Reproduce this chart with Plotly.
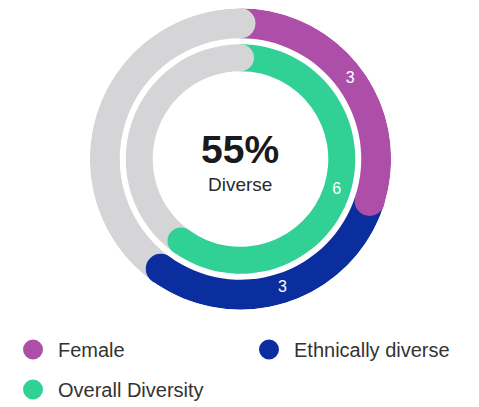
import plotly.graph_objects as go

# ---- data ----
outer_categories = ["Female", "Ethnically diverse", "Other"]
outer_values = [3, 3, 4]
outer_colors = ["#AD4FA8", "#0B2E9E", "#D5D5D7"]

inner_categories = ["Overall Diversity", "Other"]
inner_values = [6, 4]
inner_colors = ["#31D196", "#D5D5D7"]

center_value = "55%"
center_label = "Diverse"

FONT = "Arial, Liberation Sans, Helvetica, sans-serif"

# page body has an 8px margin
OFF = 8
W, H = 479 - 2 * OFF, 401


def px(x):
    return (x - OFF) / W


def py(y):
    return 1 - (y - OFF) / H


# ring geometry (radial axis units == pixels)
R_MAX = 151
CX, CY = 240, 159
rings = [
    dict(cats=outer_categories, vals=outer_values, cols=outer_colors, base=121, thick=30),
    dict(cats=inner_categories, vals=inner_values, cols=inner_colors, base=88, thick=27),
]

fig = go.Figure()

# bars
for ring in rings:
    total = sum(ring["vals"])
    starts, spans = [], []
    acc = 0
    for v in ring["vals"]:
        starts.append(acc / total * 360)
        spans.append(v / total * 360)
        acc += v
    ring["starts"] = starts
    ring["spans"] = spans
    fig.add_trace(go.Barpolar(
        r=[ring["thick"]] * len(ring["vals"]),
        base=[ring["base"]] * len(ring["vals"]),
        theta=[s + w / 2 for s, w in zip(starts, spans)],
        width=spans,
        marker=dict(color=ring["cols"], line=dict(width=0)),
        showlegend=False,
        hoverinfo="skip",
    ))

# rounded caps at the end of each segment (also used as legend entries)
legend_map = {"Female": "legend", "Ethnically diverse": "legend3", "Overall Diversity": "legend2"}
cap_traces = []
for ring in rings:
    mid_r = ring["base"] + ring["thick"] / 2
    for cat, col, s, w in zip(ring["cats"], ring["cols"], ring["starts"], ring["spans"]):
        cap_traces.append((cat, go.Scatterpolar(
            r=[mid_r],
            theta=[s + w],
            mode="markers",
            marker=dict(size=ring["thick"] - 4, color=col, line=dict(color=col, width=4)),
            name=cat,
            showlegend=cat in legend_map,
            legend=legend_map.get(cat, "legend"),
            hoverinfo="skip",
        )))
order = ["Other", "Female", "Ethnically diverse", "Overall Diversity"]
cap_traces.sort(key=lambda t: order.index(t[0]))
for _, tr in cap_traces:
    fig.add_trace(tr)

# value labels
for ring in rings:
    mid_r = ring["base"] + ring["thick"] / 2
    th, tx = [], []
    for cat, v, s, w in zip(ring["cats"], ring["vals"], ring["starts"], ring["spans"]):
        if cat == "Other":
            continue
        th.append(s + w / 2)
        tx.append(str(v))
    fig.add_trace(go.Scatterpolar(
        r=[mid_r] * len(th), theta=th, text=tx, mode="text",
        textfont=dict(color="white", size=16, family=FONT),
        showlegend=False, hoverinfo="skip",
    ))

legend_style = dict(
    orientation="h", xanchor="left", yanchor="bottom",
    font=dict(size=20, color="#333333", family=FONT),
    itemwidth=40, bgcolor="rgba(0,0,0,0)",
)

fig.update_layout(
    width=W, height=H, autosize=False,
    margin=dict(l=0, r=0, t=0, b=0),
    paper_bgcolor="white", plot_bgcolor="white",
    font=dict(family=FONT, color="#333333"),
    polar=dict(
        domain=dict(x=[px(CX - R_MAX), px(CX + R_MAX)], y=[py(CY + R_MAX), py(CY - R_MAX)]),
        bgcolor="white",
        radialaxis=dict(range=[0, R_MAX], visible=False),
        angularaxis=dict(rotation=90, direction="clockwise", visible=False),
    ),
    legend=dict(x=px(7), y=40 / H, **legend_style),
    legend3=dict(x=px(244), y=40 / H, **legend_style),
    legend2=dict(x=px(7), y=0, **legend_style),
    annotations=[
        dict(text="<b>" + center_value + "</b>", x=px(240), y=py(149), xref="paper", yref="paper",
             showarrow=False, font=dict(size=39, color="#1a1a1a", family=FONT), yanchor="middle"),
        dict(text=center_label, x=px(239), y=py(184), xref="paper", yref="paper",
             showarrow=False, font=dict(size=19, color="#2a2a2a", family=FONT), yanchor="middle"),
    ],
)

fig.write_html("out.html")
